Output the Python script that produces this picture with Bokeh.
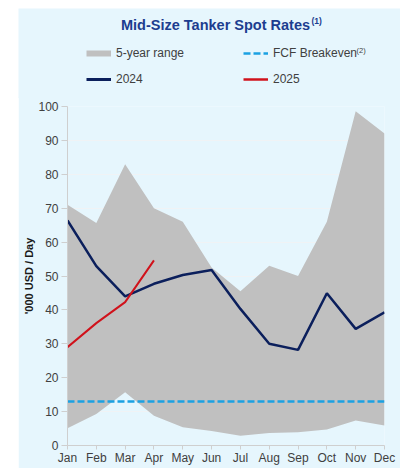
from bokeh.plotting import figure
from bokeh.models import Range1d, FixedTicker, Legend, LegendItem, Label
from bokeh.embed import file_html
from bokeh.resources import INLINE

months = ["Jan", "Feb", "Mar", "Apr", "May", "Jun", "Jul", "Aug", "Sep", "Oct", "Nov", "Dec"]
range_high = [71, 65.6, 83, 70, 66, 52.5, 45.5, 53, 50, 66, 98.6, 92]
range_low = [5.1, 9.3, 15.7, 8.8, 5.4, 4.3, 2.9, 3.7, 3.9, 4.7, 7.4, 5.9]
y2024 = [66.4, 52.9, 44.0, 47.7, 50.3, 51.8, 40.3, 30.0, 28.2, 44.9, 34.4, 39.3]
y2025 = [29.0, 36.1, 42.3, 54.6]
breakeven = 13.0
y_ticks = [0, 10, 20, 30, 40, 50, 60, 70, 80, 90, 100]

BG = "#E6F6FD"
GRAY = "#C0C0C0"
NAVY = "#0B1F5C"
RED = "#D0121B"
CYAN = "#1BA1E2"
x = list(range(len(months)))

# ---------------- header (title + legend) ----------------
HW, HH = 382, 90
h = figure(width=HW, height=HH, output_backend="svg", toolbar_location=None,
           x_range=Range1d(0, 1), y_range=Range1d(0, 1),
           x_axis_type=None, y_axis_type=None)
h.margin = (8, 3, 0, 18)
h.min_border = 0
h.background_fill_color = BG
h.border_fill_color = BG
h.outline_line_color = None
h.xgrid.grid_line_color = None
h.ygrid.grid_line_color = None

off = dict(x=[-5, -4], y=[-5, -5])  # keys only, kept outside the header's view
k_band = h.line(**off, line_color=GRAY, line_width=6)
k_24 = h.line(**off, line_color=NAVY, line_width=3)
k_be = h.line(**off, line_color=CYAN, line_width=2.5, line_dash="7 3")
k_25 = h.line(**off, line_color=RED, line_width=2.5)

def mk_legend(items, px):
    lg = Legend(items=items, location=(px - 18, HH - (89 - 8)), orientation="vertical",
                padding=0, margin=0, spacing=6, glyph_width=25, glyph_height=20,
                label_height=20, label_standoff=5, label_text_font="Liberation Sans",
                label_text_font_size="12px", label_text_color="#404040",
                background_fill_alpha=0, border_line_alpha=0)
    h.add_layout(lg, "center")

mk_legend([LegendItem(label="5-year range", renderers=[k_band]),
           LegendItem(label="2024", renderers=[k_24])], 86)
mk_legend([LegendItem(label="FCF Breakeven", renderers=[k_be]),
           LegendItem(label="2025", renderers=[k_25])], 243)

def lab(text, X, Y, size, bold=False, color="#404040"):
    h.add_layout(Label(x=X - 18, y=HH - (Y - 8), x_units="screen", y_units="screen", text=text,
                       text_font="Liberation Sans", text_font_size=size,
                       text_font_style="bold" if bold else "normal", text_color=color,
                       text_baseline="alphabetic", text_align="left"))

lab("Mid-Size Tanker Spot Rates", 120.5, 24, "14.5px", bold=True, color="#1C3D8F")
lab("(1)", 311, 20, "8.5px", bold=True, color="#1C3D8F")
lab("(2)", 356, 50, "7.5px", color="#404040")

# ---------------- main chart ----------------
p = figure(width=382, height=372, output_backend="svg", toolbar_location=None,
           x_range=Range1d(0, len(months) - 1), y_range=Range1d(0, 100))
p.margin = (-2, 3, 0, 18)
p.min_border = 0
p.min_border_left = 49
p.min_border_right = 16
p.min_border_top = 10
p.min_border_bottom = 23
p.background_fill_color = BG
p.border_fill_color = BG
p.outline_line_color = None

p.varea(x=x, y1=range_low, y2=range_high, fill_color=GRAY)
p.line(x=x, y=[breakeven] * len(months), line_color=CYAN, line_width=2.5, line_dash="7 3")
p.line(x=x, y=y2024, line_color=NAVY, line_width=2.5)
p.line(x=x[:len(y2025)], y=y2025, line_color=RED, line_width=2)

p.xgrid.grid_line_color = None
p.ygrid.grid_line_color = "#F2F2F2"
p.ygrid.grid_line_alpha = 0.8

p.xaxis.ticker = FixedTicker(ticks=x)
p.xaxis.major_label_overrides = {i: m for i, m in enumerate(months)}
p.yaxis.ticker = FixedTicker(ticks=y_ticks)
for ax in (p.xaxis, p.yaxis):
    ax.axis_line_color = "#CFCFCF"
    ax.major_tick_line_color = "#CFCFCF"
    ax.minor_tick_line_color = None
    ax.major_tick_in = 0
    ax.major_label_text_font = "Liberation Sans"
    ax.major_label_text_font_size = "12px"
    ax.major_label_text_color = "#404040"
p.xaxis.major_tick_out = 4
p.xaxis.major_label_standoff = 1
p.yaxis.major_tick_out = 6
p.yaxis.major_label_standoff = 3
p.yaxis.axis_label = "'000 USD / Day"
p.yaxis.axis_label_text_font = "Liberation Sans"
p.yaxis.axis_label_text_font_size = "11px"
p.yaxis.axis_label_text_font_style = "bold"
p.yaxis.axis_label_text_color = "#1A1A1A"
p.yaxis.axis_label_standoff = 0

open("out.html", "w").write(file_html([h, p], INLINE))
